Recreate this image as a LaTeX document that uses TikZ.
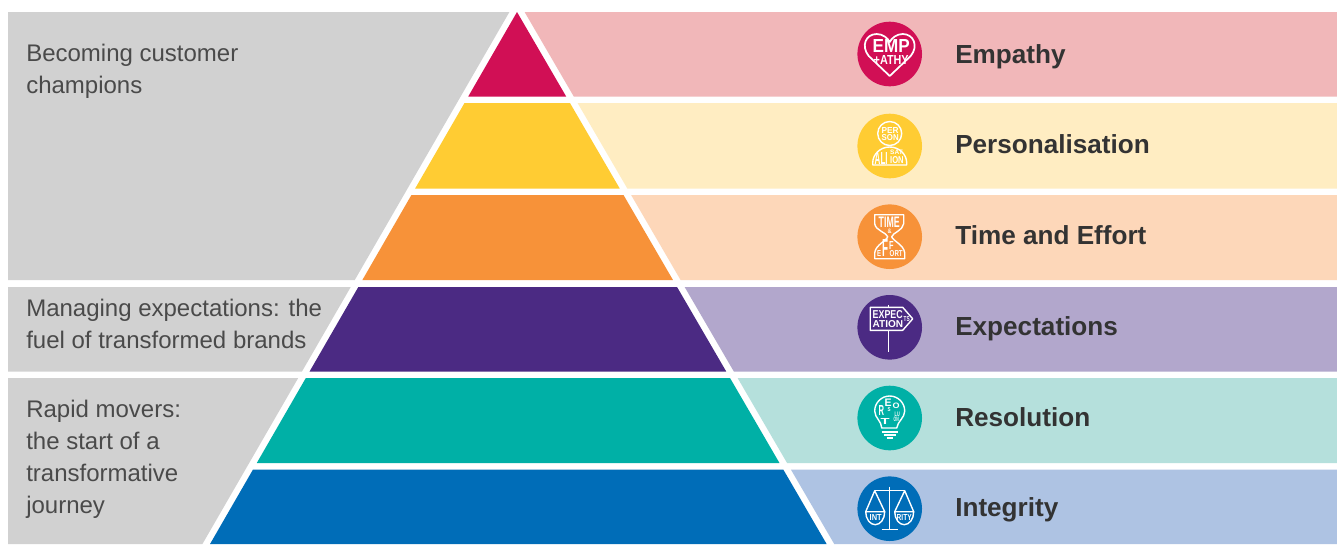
\documentclass[tikz,border=0pt]{standalone}
\usepackage{graphicx}
\usepackage{fontspec}
\setmainfont{Liberation Sans}
\definecolor{cA}{HTML}{D10F55}\definecolor{lA}{HTML}{F1B7B9}
\definecolor{cB}{HTML}{FFCC33}\definecolor{lB}{HTML}{FFEDC2}
\definecolor{cC}{HTML}{F79239}\definecolor{lC}{HTML}{FDD7B9}
\definecolor{cD}{HTML}{4B2A83}\definecolor{lD}{HTML}{B2A7CC}
\definecolor{cE}{HTML}{00B0A6}\definecolor{lE}{HTML}{B5E0DC}
\definecolor{cF}{HTML}{006DB8}\definecolor{lF}{HTML}{AEC3E3}
\definecolor{gr}{HTML}{D1D1D1}\definecolor{txt}{HTML}{4A4A4A}\definecolor{lab}{HTML}{333333}
\tikzset{
  sidetext/.style={anchor=north west,align=left,inner sep=0pt,text=txt,font=\fontsize{18}{24}\selectfont},
  labeltext/.style={anchor=base west,inner sep=0pt,text=lab,font=\fontsize{19.6}{24}\selectfont\bfseries},
  ic/.style={white,line width=1.05pt,line join=round},
  ictnode/.style={inner sep=0pt,text=white}
}
\newcommand{\LX}[1]{\fpeval{517-0.577*(#1-12)}}
\newcommand{\RX}[1]{\fpeval{517+0.582*(#1-12)}}
\newcommand{\band}[4]{%
  \fill[#3] (\LX{#1},#1) -- (\RX{#1},#1) -- (\RX{#2},#2) -- (\LX{#2},#2) -- cycle;
  \fill[#4] ({\RX{#1}+7.6},#1) -- (1337,#1) -- (1337,#2) -- ({\RX{#2}+7.6},#2) -- cycle;}
\newcommand{\greyband}[2]{%
  \fill[gr] (8,#1) -- ({\LX{#1}-7.6},#1) -- ({\LX{#2}-7.6},#2) -- (8,#2) -- cycle;}
% \ict{x0}{x1}{y0}{y1}{text}: icon text stretched to a box, in px
\newcommand{\ict}[5]{\node[ictnode] at ({(#1+#2)/2},{(#3+#4)/2}) {\resizebox{\fpeval{(#2-(#1))*0.75}pt}{\fpeval{(#4-(#3))*0.75}pt}{\bfseries #5}};}
\begin{document}
\begin{tikzpicture}[x=0.75pt,y=-0.75pt]
\useasboundingbox (0,0) rectangle (1337,544);
\fill[white] (0,0) rectangle (1337,544);
\greyband{12}{280}\greyband{287}{371.5}\greyband{378}{544}
\band{12}{96.5}{cA}{lA}
\band{103}{188.5}{cB}{lB}
\band{195}{280}{cC}{lC}
\band{287}{371.5}{cD}{lD}
\band{378}{463}{cE}{lE}
\band{469.5}{544}{cF}{lF}

\node[sidetext] (t1) at (26,43.5) {Becoming customer\\champions};
\node[sidetext] (t2) at (26,299) {Managing expectations: the\\fuel of transformed brands};
\node[sidetext] (t3) at (26,400) {Rapid movers:\\the start of a\\transformative\\journey};

\node[labeltext] (l1) at (955,63) {Empathy};
\node[labeltext] (l2) at (955,153) {Personalisation};
\node[labeltext] (l3) at (955,244) {Time and Effort};
\node[labeltext] (l4) at (955,335) {Expectations};
\node[labeltext] (l5) at (955,426) {Resolution};
\node[labeltext] (l6) at (955,516) {Integrity};

% Empathy
\fill[cA] (889.7,54) circle (32.3);
\begin{scope}[shift={(889.7,54)}]
\draw[ic,line width=1.3pt] (0,22) -- (-21,2) .. controls (-29,-8) and (-24,-20) .. (-13,-20) .. controls (-7,-20) and (-2,-16) .. (0,-12) .. controls (2,-16) and (7,-20) .. (13,-20) .. controls (24,-20) and (29,-8) .. (21,2) -- cycle;
\ict{-17}{20}{-15}{-2}{EMP}
\ict{-16}{19}{1}{10}{+ATHY}
\end{scope}

% Personalisation
\fill[cB] (889.7,146) circle (32.3);
\begin{scope}[shift={(889.7,146)}]
\draw[ic] (0,-12.5) circle (12);
\ict{-8}{9}{-19}{-13}{PER}
\ict{-8}{9}{-11}{-5}{SON}
\draw[ic] (-17,19) -- (-17,17) arc (180:360:17 and 16) -- (17,19) -- cycle;
\ict{-15}{-2}{6}{18}{ALI}
\ict{0.5}{13}{4}{8.5}{SAT}
\ict{0.5}{14}{11}{18}{ION}
\end{scope}

% Time and Effort
\fill[cC] (889.7,236.7) circle (32.3);
\begin{scope}[shift={(889.7,236.7)}]
\draw[ic] (-15,-22) -- (14,-22) -- (14,-13) .. controls (13,-6) and (3,-4) .. (2,0) .. controls (3,4) and (14,8) .. (15,16) -- (15,22) -- (-15,22) -- (-15,16) .. controls (-14,8) and (-3,4) .. (-2,0) .. controls (-3,-4) and (-14,-6) .. (-15,-13) -- cycle;
\ict{-11}{10}{-19.5}{-9}{TIME}
\ict{-2}{2}{-7.5}{-3}{\&}
\ict{-7.5}{-1.5}{3}{20}{F}
\ict{-0.5}{4}{5}{13}{F}
\ict{-12.5}{-8.5}{14}{20}{E}
\ict{0}{13}{14}{20}{ORT}
\end{scope}

% Expectations
\fill[cD] (889.7,327.3) circle (32.3);
\begin{scope}[shift={(889.7,327.3)}]
\draw[ic] (-1,-22) -- (-1,-20);
\draw[ic] (-1,3) -- (-1,25);
\draw[ic] (-19.5,-20) -- (13,-20) -- (23,-8.5) -- (13,3) -- (-19.5,3) -- cycle;
\ict{-17}{13}{-17}{-9}{EXPEC}
\ict{-17}{13.5}{-7}{0}{ATION}
\ict{14}{20}{-11}{-6}{TS}
\end{scope}

% Resolution
\fill[cE] (889.7,418) circle (32.3);
\begin{scope}[shift={(889.7,418)}]
\draw[ic] (-8,10) .. controls (-8,3) and (-15,0) .. (-15,-7) arc (180:360:15) .. controls (15,0) and (8,3) .. (7,10) -- cycle;
\draw[ic] (-8,14) -- (8,14);
\draw[ic] (-6,17) -- (6,17);
\draw[ic] (-3,20) -- (3,20);
\ict{-11}{-5.5}{-13}{-3}{R}
\ict{-5}{2}{-19}{-11.5}{E}
\ict{3}{10}{-15}{-9.5}{O}
\ict{-2}{1}{-10}{-6}{S}
\ict{-9}{0}{0}{6}{T}
\ict{5}{10}{-6}{-1.5}{LU}
\ict{4}{9}{-0.5}{4}{ON}
\end{scope}

% Integrity
\fill[cF] (889.7,508.7) circle (32.3);
\begin{scope}[shift={(889.7,508.7)}]
\draw[ic] (0,-22) -- (0,21);
\draw[ic] (-8,21) -- (8,21);
\draw[ic] (-15,-18) -- (15,-18);
\draw[ic] (-24,3) -- (-15,-18) -- (-5,3);
\draw[ic] (24,3) -- (15,-18) -- (5,3);
\draw[ic] (-5,3) -- (-24,3) arc (180:0:9.5 and 13) -- cycle;
\draw[ic] (5,3) -- (24,3) arc (0:180:9.5 and 13) -- cycle;
\ict{-20}{-8}{5.5}{11.5}{INT}
\ict{7}{22}{5.5}{11.5}{RITY}
\end{scope}
\end{tikzpicture}
\end{document}
